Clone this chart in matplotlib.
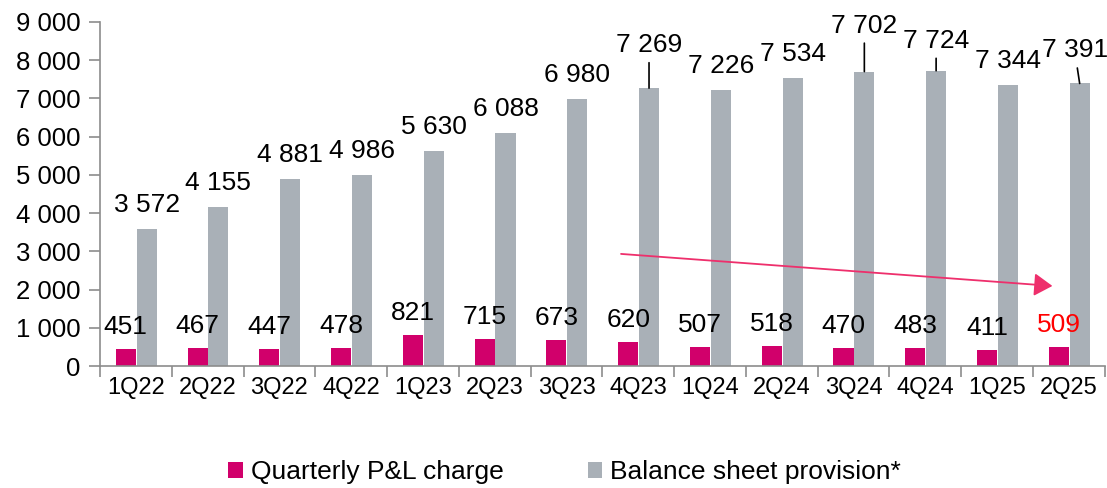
import matplotlib.pyplot as plt
import numpy as np

plt.rcParams['font.family'] = ['Liberation Sans', 'DejaVu Sans']

quarters = ['1Q22', '2Q22', '3Q22', '4Q22', '1Q23', '2Q23', '3Q23',
            '4Q23', '1Q24', '2Q24', '3Q24', '4Q24', '1Q25', '2Q25']
pl_charge = [451, 467, 447, 478, 821, 715, 673, 620, 507, 518, 470, 483, 411, 509]
provision = [3572, 4155, 4881, 4986, 5630, 6088, 6980, 7269, 7226, 7534,
             7702, 7724, 7344, 7391]
y_ticks = [0, 1000, 2000, 3000, 4000, 5000, 6000, 7000, 8000, 9000]

PINK = '#D1006B'
GREY = '#A9B0B7'
AXIS = '#8C8C8C'

# label offsets for the grey bars (pixels, baseline above bar top); leaders where raised
grey_dy = [17, 17, 17, 17, 17, 17, 17, 36, 17, 17, 39, 23, 17, 26]
grey_dx = [0, 0, 0, 0, 0, 0, 0, 0, 0, 0, 0, 0, 0, -5]
leader = [False] * 7 + [True, False, False, True, True, False, True]

fig = plt.figure(figsize=(11.07, 4.88), dpi=100)
ax = fig.add_axes([0.0903, 0.25, 0.9077, 0.705])

x = np.arange(len(quarters))
w = 0.28
ax.bar(x - 0.14, pl_charge, width=w, color=PINK, label='Quarterly P&L charge')
ax.bar(x + 0.15, provision, width=w, color=GREY, label='Balance sheet provision*')

# data labels
for i, v in enumerate(pl_charge):
    col = 'red' if i == len(pl_charge) - 1 else 'black'
    ax.annotate(f'{v:,}'.replace(',', ' '), xy=(x[i] - 0.14, v),
                xytext=(0, 15), textcoords='offset pixels',
                ha='center', va='baseline', fontsize=19, color=col)

for i, v in enumerate(provision):
    props = dict(arrowstyle='-', color='black', lw=1.2, shrinkB=0) if leader[i] else None
    ax.annotate(f'{v:,}'.replace(',', ' '), xy=(x[i] + 0.15, v),
                xytext=(grey_dx[i], grey_dy[i]), textcoords='offset pixels',
                ha='center', va='baseline', fontsize=19, color='black',
                arrowprops=props)

# trend arrow
ax.annotate('', xy=(12.77, 2094), xytext=(6.76, 2932),
            arrowprops=dict(arrowstyle='-|>,head_length=0.4,head_width=0.25',
                            color='#EE2F6C', lw=1.3, mutation_scale=28,
                            shrinkA=0, shrinkB=0))

ax.set_xlim(-0.5, len(quarters) - 0.5)
ax.set_ylim(0, 9000)
ax.set_yticks(y_ticks)
ax.set_yticklabels([f'{t:,}'.replace(',', ' ') for t in y_ticks], fontsize=18.5)

ax.set_xticks(np.arange(len(quarters) + 1) - 0.5)
ax.set_xticklabels([])
ax.set_xticks(x, minor=True)
ax.set_xticklabels(quarters, minor=True, fontsize=17)
ax.tick_params(axis='x', which='minor', length=0, pad=8)
ax.tick_params(axis='x', which='major', length=8, color=AXIS, width=1.2)
ax.tick_params(axis='y', length=8, color=AXIS, width=1.2, pad=6)

for s in ['top', 'right']:
    ax.spines[s].set_visible(False)
for s in ['left', 'bottom']:
    ax.spines[s].set_color(AXIS)
    ax.spines[s].set_linewidth(1.2)

fig.legend(loc='center', bbox_to_anchor=(0.51, 0.033), ncol=2, frameon=False,
           fontsize=19, handlelength=0.55, handleheight=0.55, handletextpad=0.3,
           columnspacing=3.2)

fig.savefig('out.png', dpi=100)
